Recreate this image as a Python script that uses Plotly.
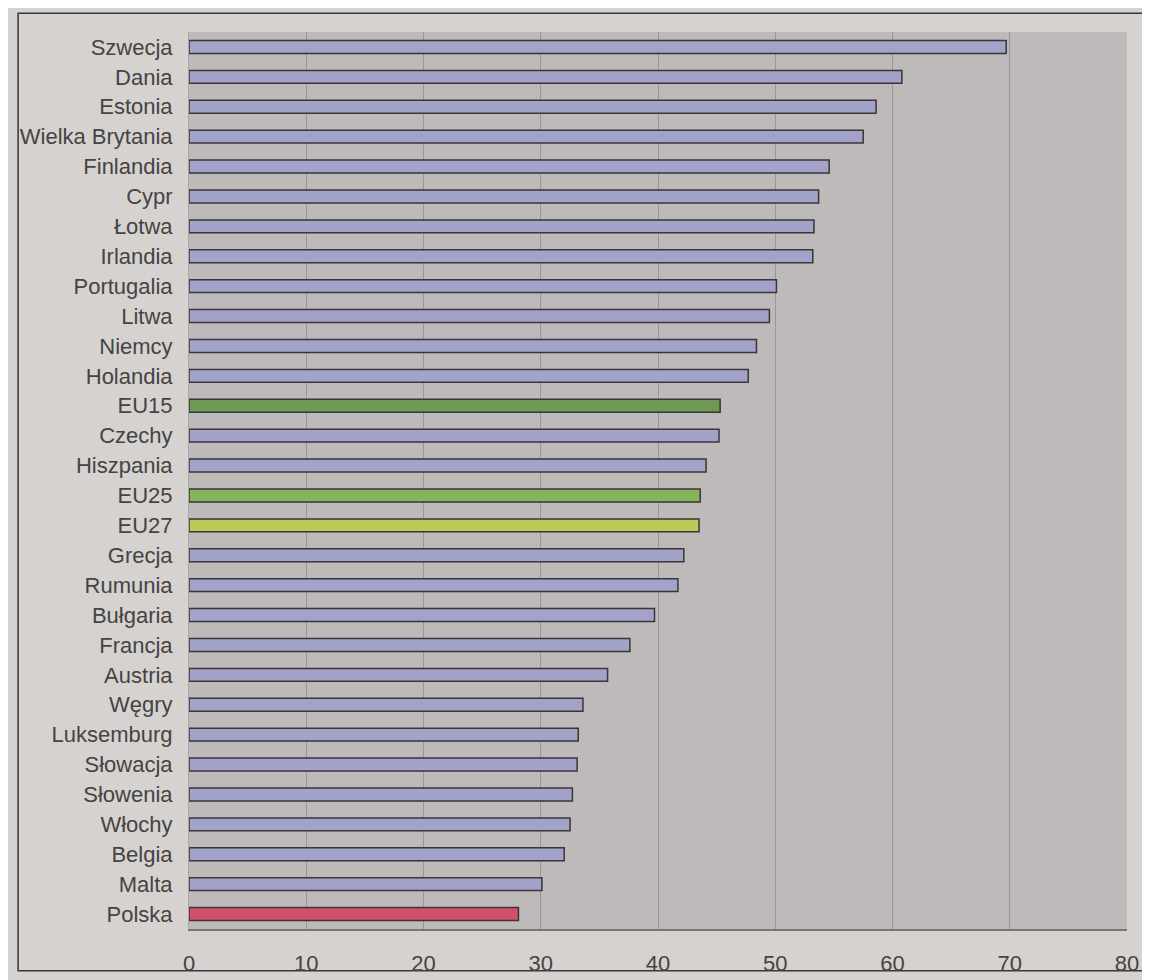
import plotly.graph_objects as go

countries = ["Szwecja", "Dania", "Estonia", "Wielka Brytania", "Finlandia", "Cypr", "Łotwa",
             "Irlandia", "Portugalia", "Litwa", "Niemcy", "Holandia", "EU15", "Czechy",
             "Hiszpania", "EU25", "EU27", "Grecja", "Rumunia", "Bułgaria", "Francja",
             "Austria", "Węgry", "Luksemburg", "Słowacja", "Słowenia", "Włochy", "Belgia",
             "Malta", "Polska"]
values = [69.7, 60.8, 58.6, 57.5, 54.6, 53.7, 53.3, 53.2, 50.1, 49.5, 48.4, 47.7, 45.3, 45.2,
          44.1, 43.6, 43.5, 42.2, 41.7, 39.7, 37.6, 35.7, 33.6, 33.2, 33.1, 32.7, 32.5, 32.0,
          30.1, 28.1]
x_ticks = [0, 10, 20, 30, 40, 50, 60, 70, 80]

special = {"EU15": "#6f9a55", "EU25": "#84b55a", "EU27": "#bccb55", "Polska": "#d2506a"}
colors = [special.get(c, "#a3a2c8") for c in countries]

fig = go.Figure(go.Bar(
    x=values, y=countries, orientation="h",
    marker=dict(color=colors, line=dict(color="#3a3536", width=1.5)),
    width=0.43,
))

OFF = 8  # page body margin
W, H = 1150, 980
L, T = 183 - OFF, 32 - OFF
pw, ph = 944, 903
R = W - L - pw
B = H - T - ph

# positions in screenshot pixels -> paper coords
def px(x):
    return (x - (L + OFF)) / pw

def py(y):
    return (T + OFF + ph - y) / ph

fig.update_layout(
    width=W, height=H,
    margin=dict(l=L, r=R, t=T, b=B),
    paper_bgcolor="#d6d2d0",
    plot_bgcolor="#bfbaba",
    showlegend=False,
    font=dict(family="Liberation Sans, Arial, sans-serif", size=22, color="#454343"),
    xaxis=dict(range=[0, 80], tickvals=x_ticks, showgrid=True, gridcolor="#9a9696",
               gridwidth=1, zeroline=False, showline=True, linecolor="#7a7676",
               linewidth=2, ticks="", ticklabelstandoff=14,
               tickfont=dict(size=22, color="#454343")),
    yaxis=dict(categoryorder="array", categoryarray=countries[::-1],
               showgrid=False, zeroline=False, showline=True, linecolor="#aaa6a6",
               linewidth=1, ticks="", ticklabelstandoff=11,
               tickfont=dict(size=22, color="#454343")),
    shapes=[dict(type="rect", xref="paper", yref="paper",
                 x0=px(11), x1=px(1160), y0=py(977), y1=py(13),
                 line=dict(color="#3a3536", width=1.5), fillcolor="rgba(0,0,0,0)",
                 layer="below")],
)

fig.write_html("out.html")
